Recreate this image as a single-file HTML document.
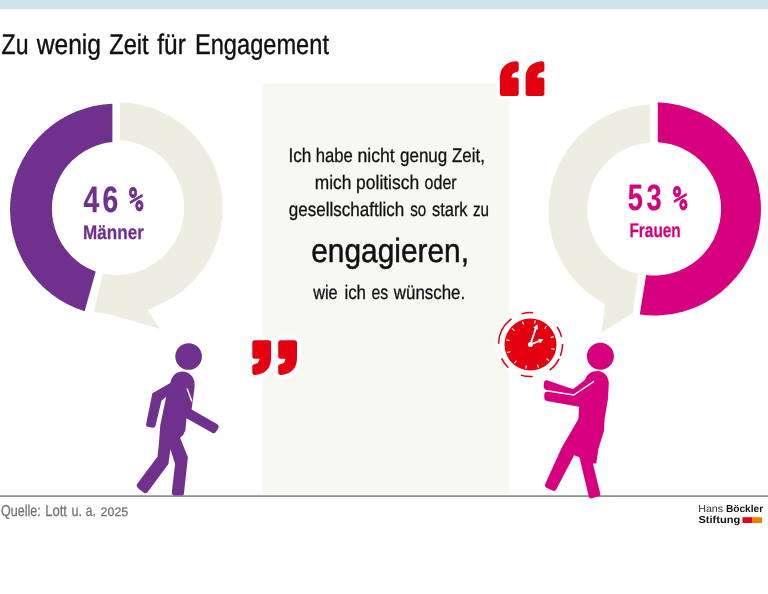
<!DOCTYPE html>
<html lang="de">
<head>
<meta charset="utf-8">
<title>Zu wenig Zeit für Engagement</title>
<style>
html,body{margin:0;padding:0;background:#fff;}
body{width:768px;height:594px;overflow:hidden;position:relative;font-family:"Liberation Sans",sans-serif;}
svg{position:absolute;left:0;top:0;display:block;}
text{font-family:"Liberation Sans",sans-serif;text-rendering:geometricPrecision;}
.b{font-weight:bold;}
</style>
</head>
<body>
<svg width="768" height="594" viewBox="0 0 768 594">
  <!-- top bar -->
  <rect x="0" y="0" width="768" height="9.2" fill="#cde4ed"/>

  <!-- centre box -->
  <rect x="262.5" y="83.4" width="246.8" height="410.4" fill="#f8f8f3"/>

  <!-- LEFT DONUT -->
  <g id="donutL">
    <path fill="#eeede2" d="M119.80 102.13 A105.6 105.6 0 0 1 165.00 301.81 L147.7 310.3 L160.0 329.0 L125 318.7 L109.5 314.4 Q101 312.6 93.6 312.2 L102.99 273.67 A67.4 67.4 0 1 0 119.80 140.37 Z"/>
    <path fill="#6f308e" d="M112.40 103.67 L112.40 142.02 A67.0 67.0 0 0 0 95.73 271.57 L84.60 311.36 A106.3 106.3 0 0 1 112.40 103.67 Z"/>
  </g>

  <!-- RIGHT DONUT -->
  <g id="donutR">
    <path fill="#eeede2" d="M650.10 104.40 L650.10 142.52 A66.8 66.8 0 0 0 637.99 274.03 L632.9 313.0 L601.6 332.4 L604.97 304.17 A106.1 106.1 0 0 1 650.10 104.40 Z"/>
    <path fill="#d6007e" d="M657.80 102.36 A106.6 106.6 0 1 1 639.76 314.50 L646.12 274.88 A66.6 66.6 0 1 0 657.80 142.29 Z"/>
  </g>


  <!-- baseline rule -->
  <rect x="0" y="495.3" width="768" height="1.6" fill="#878787"/>
  <!-- clock -->
  <g id="clock">
    <circle cx="530.5" cy="344.6" r="35.2" fill="#fff"/>
    <path d="M521.57 313.87 A32 32 0 0 1 533.01 312.70 M557.25 327.03 A32 32 0 0 1 561.55 336.86 M562.50 344.04 A32 32 0 0 1 560.37 356.07 M559.14 358.88 A32 32 0 0 1 549.76 370.16 M532.73 376.52 A32 32 0 0 1 520.88 375.12 M508.35 367.70 A32 32 0 0 1 501.59 358.33 M498.51 343.71 A32 32 0 0 1 511.56 318.81" fill="none" stroke="#e3000f" stroke-width="1.5"/>
    <circle cx="530.5" cy="344.6" r="26" fill="#e3000f"/>
    <g stroke="#fdf6e6" stroke-width="1.2"><line x1="534.56" y1="323.69" x2="535.19" y2="320.45"/><line x1="544.47" y1="328.52" x2="546.64" y2="326.03"/><line x1="550.64" y1="337.67" x2="553.76" y2="336.59"/><line x1="551.41" y1="348.66" x2="554.65" y2="349.29"/><line x1="546.58" y1="358.57" x2="549.07" y2="360.74"/><line x1="537.43" y1="364.74" x2="538.51" y2="367.86"/><line x1="526.44" y1="365.51" x2="525.81" y2="368.75"/><line x1="516.53" y1="360.68" x2="514.36" y2="363.17"/><line x1="510.36" y1="351.53" x2="507.24" y2="352.61"/><line x1="509.59" y1="340.54" x2="506.35" y2="339.91"/><line x1="514.42" y1="330.63" x2="511.93" y2="328.46"/><line x1="523.57" y1="324.46" x2="522.49" y2="321.34"/></g>
    <g fill="#fff">
      <polygon points="529.50,344.10 534.83,328.27 533.26,327.74 537.19,324.21 538.19,329.40 536.63,328.88 531.30,344.70"/>
      <polygon points="530.07,343.51 538.79,340.27 538.21,338.72 543.43,339.55 540.02,343.60 539.45,342.05 530.73,345.29"/>
    </g>
    <circle cx="530.4" cy="344.4" r="2.5" fill="#fff"/>
  </g>

  <!-- man -->
  <g id="man" fill="#6f308e">
    <circle cx="188.6" cy="356.5" r="13.3"/>
    <path d="M166.3 396.6 L170.3 383 C171.5 376.5 176 371.5 182 371.5 C189.5 371.5 194.6 377 194.6 384.5 L194.4 389 L191.6 409.4 L217.4 424.3 Q219.5 426 218.3 428.3 L215.5 432.5 Q214 433.8 212.5 433 L186.5 418.2 L185.3 430.4 Q184 435 180.1 437.8 L187.9 457.3 L183.9 493.7 Q183.8 495.6 182 495.6 L174 495.4 Q171.6 495 171.8 492.3 L175.1 464.1 L170.4 449.2 L168.4 464.1 L147.5 492.3 Q146 494 144 492.7 L138 488.3 Q135.8 486.3 136.9 484.3 L157.6 456.6 L159 442.5 L160.3 425 Z"/>
    <path d="M170.3 383 L152.4 393.3 L146.1 424.3 Q145.8 426.5 148 427 L153 427.8 Q155 427.8 155.5 425.8 L161.5 400.7 L166.3 396.6 L176 398 L178 380 Z"/>
    <path d="M187.1 388.6 L191.9 401.4" stroke="#fff" stroke-width="1.4" fill="none"/>
  </g>

  <!-- woman -->
  <g id="woman" fill="#d6007e">
    <circle cx="600.4" cy="356.2" r="13.5"/>
    <path d="M585.1 379.8 C587 374.5 591.5 371.1 597.2 371.1 C604 371.1 608.8 376.5 608.8 383.5 L608 398.7 L604.6 418.9 L603.9 431 L598.3 449.2 L596.3 463.4 L592.9 463.4 L600.3 493.7 Q600.8 495.6 599 496.2 L591 498.4 Q589.3 498.7 588.8 496.4 L579.4 457.3 L574.1 455.3 L556.5 489 Q555.2 491.5 553 490.7 L546.3 487.8 Q544.3 486.6 545.1 484.3 L561.9 447.2 L572.3 429.6 L578.4 418.9 L579.1 406.8 L546.7 401.1 Q544.2 400.6 544.3 398 L544.3 394.5 Q544.4 391.6 547 391.9 L545.4 389.2 Q543.5 388.8 543.6 386.5 L543.9 383.5 Q544.3 379.9 547 380.3 L573 389.2 Z"/>
    <path d="M542 390.0 L573.7 395.0 L593.9 381.4" stroke="#fff" stroke-width="1.4" fill="none"/>
  </g>

  <!-- quote marks -->
  <defs>
    <path id="qm" d="M0 32.3 L0 17 C0 7 5.5 1.2 15.5 0.1 Q18.8 -0.3 18.8 2.8 L18.8 9 Q18.8 10.6 17 10.9 C13.3 11.5 11.9 13 11.7 16.4 L16.3 16.4 Q18.8 16.4 18.8 18.9 L18.8 32.3 Q18.8 34.8 16.3 34.8 L2.5 34.8 Q0 34.8 0 32.3 Z"/>
  </defs>
  <g fill="#e3000f" stroke="#fff" stroke-width="6" paint-order="stroke" stroke-linejoin="round">
    <use href="#qm" x="499.9" y="61.1"/>
    <use href="#qm" x="525.6" y="61.1"/>
  </g>
  <g fill="#e3000f" stroke="#fff" stroke-width="9" paint-order="stroke" stroke-linejoin="round">
    <use href="#qm" transform="translate(271.1 375.1) rotate(180)"/>
    <use href="#qm" transform="translate(297.0 375.1) rotate(180)"/>
  </g>

  <!-- text -->
  <g id="labels">
    <text x="1.6" y="53.8" font-size="28.4" fill="#111111" stroke="#111111" stroke-width="0.4" vector-effect="non-scaling-stroke" textLength="26.88" lengthAdjust="spacingAndGlyphs">Zu</text>
    <text x="36.75" y="53.8" font-size="28.4" fill="#111111" stroke="#111111" stroke-width="0.4" vector-effect="non-scaling-stroke" textLength="64.27" lengthAdjust="spacingAndGlyphs">wenig</text>
    <text x="109.2" y="53.8" font-size="28.4" fill="#111111" stroke="#111111" stroke-width="0.4" vector-effect="non-scaling-stroke" textLength="39.51" lengthAdjust="spacingAndGlyphs">Zeit</text>
    <text x="157.3" y="53.8" font-size="28.4" fill="#111111" stroke="#111111" stroke-width="0.4" vector-effect="non-scaling-stroke" textLength="28.5" lengthAdjust="spacingAndGlyphs">für</text>
    <text x="194.95" y="53.8" font-size="28.4" fill="#111111" stroke="#111111" stroke-width="0.4" vector-effect="non-scaling-stroke" textLength="134.02" lengthAdjust="spacingAndGlyphs">Engagement</text>
    <text x="288.45" y="161.9" font-size="19.6" fill="#111111" stroke="#111111" stroke-width="0.3" vector-effect="non-scaling-stroke" textLength="22.96" lengthAdjust="spacingAndGlyphs">Ich</text>
    <text x="315.8" y="161.9" font-size="19.6" fill="#111111" stroke="#111111" stroke-width="0.3" vector-effect="non-scaling-stroke" textLength="37.06" lengthAdjust="spacingAndGlyphs">habe</text>
    <text x="357.4" y="161.9" font-size="19.6" fill="#111111" stroke="#111111" stroke-width="0.3" vector-effect="non-scaling-stroke" textLength="37.28" lengthAdjust="spacingAndGlyphs">nicht</text>
    <text x="400.0" y="161.9" font-size="19.6" fill="#111111" stroke="#111111" stroke-width="0.3" vector-effect="non-scaling-stroke" textLength="47.29" lengthAdjust="spacingAndGlyphs">genug</text>
    <text x="452.05" y="161.9" font-size="19.6" fill="#111111" stroke="#111111" stroke-width="0.3" vector-effect="non-scaling-stroke" textLength="32.83" lengthAdjust="spacingAndGlyphs">Zeit,</text>
    <text x="314.8" y="188.8" font-size="19.6" fill="#111111" stroke="#111111" stroke-width="0.3" vector-effect="non-scaling-stroke" textLength="36.59" lengthAdjust="spacingAndGlyphs">mich</text>
    <text x="356.1" y="188.8" font-size="19.6" fill="#111111" stroke="#111111" stroke-width="0.3" vector-effect="non-scaling-stroke" textLength="63.06" lengthAdjust="spacingAndGlyphs">politisch</text>
    <text x="424.6" y="188.8" font-size="19.6" fill="#111111" stroke="#111111" stroke-width="0.3" vector-effect="non-scaling-stroke" textLength="32.01" lengthAdjust="spacingAndGlyphs">oder</text>
    <text x="288.8" y="216.2" font-size="19.6" fill="#111111" stroke="#111111" stroke-width="0.3" vector-effect="non-scaling-stroke" textLength="115.51" lengthAdjust="spacingAndGlyphs">gesellschaftlich</text>
    <text x="410.25" y="216.2" font-size="19.6" fill="#111111" stroke="#111111" stroke-width="0.3" vector-effect="non-scaling-stroke" textLength="16.03" lengthAdjust="spacingAndGlyphs">so</text>
    <text x="432.05" y="216.2" font-size="19.6" fill="#111111" stroke="#111111" stroke-width="0.3" vector-effect="non-scaling-stroke" textLength="35.5" lengthAdjust="spacingAndGlyphs">stark</text>
    <text x="473.0" y="216.2" font-size="19.6" fill="#111111" stroke="#111111" stroke-width="0.3" vector-effect="non-scaling-stroke" textLength="16.09" lengthAdjust="spacingAndGlyphs">zu</text>
    <text x="311.2" y="262.4" font-size="33.5" fill="#111111" stroke="#111111" stroke-width="0.5" vector-effect="non-scaling-stroke" textLength="157.82" lengthAdjust="spacingAndGlyphs">engagieren,</text>
    <text x="313.15" y="298.7" font-size="19.6" fill="#111111" stroke="#111111" stroke-width="0.3" vector-effect="non-scaling-stroke" textLength="24.5" lengthAdjust="spacingAndGlyphs">wie</text>
    <text x="344.4" y="298.7" font-size="19.6" fill="#111111" stroke="#111111" stroke-width="0.3" vector-effect="non-scaling-stroke" textLength="21.65" lengthAdjust="spacingAndGlyphs">ich</text>
    <text x="371.5" y="298.7" font-size="19.6" fill="#111111" stroke="#111111" stroke-width="0.3" vector-effect="non-scaling-stroke" textLength="16.8" lengthAdjust="spacingAndGlyphs">es</text>
    <text x="393.85" y="298.7" font-size="19.6" fill="#111111" stroke="#111111" stroke-width="0.3" vector-effect="non-scaling-stroke" textLength="71.26" lengthAdjust="spacingAndGlyphs">wünsche.</text>
    <text x="83.55" y="211.9" font-size="36.6" font-weight="bold" fill="#6f308e" stroke="#6f308e" stroke-width="0.25" vector-effect="non-scaling-stroke" letter-spacing="4.0" textLength="37.72" lengthAdjust="spacingAndGlyphs">46</text>
    <text x="129.1" y="211.4" font-size="34.1" style="font-family:'DejaVu Sans Mono','Liberation Sans',sans-serif" font-weight="bold" fill="#6f308e" stroke="#6f308e" stroke-width="1.0" vector-effect="non-scaling-stroke" textLength="14.25" lengthAdjust="spacingAndGlyphs">%</text>
    <text x="83.1" y="239.1" font-size="19.8" font-weight="bold" fill="#6f308e" stroke="#6f308e" stroke-width="0.25" vector-effect="non-scaling-stroke" textLength="60.77" lengthAdjust="spacingAndGlyphs">Männer</text>
    <text x="627.65" y="210.3" font-size="36.6" font-weight="bold" fill="#d6007e" stroke="#d6007e" stroke-width="0.25" vector-effect="non-scaling-stroke" letter-spacing="5.0" textLength="37.77" lengthAdjust="spacingAndGlyphs">53</text>
    <text x="673.1" y="209.8" font-size="34.1" style="font-family:'DejaVu Sans Mono','Liberation Sans',sans-serif" font-weight="bold" fill="#d6007e" stroke="#d6007e" stroke-width="1.0" vector-effect="non-scaling-stroke" textLength="14.25" lengthAdjust="spacingAndGlyphs">%</text>
    <text x="629.45" y="236.6" font-size="19.8" font-weight="bold" fill="#d6007e" stroke="#d6007e" stroke-width="0.25" vector-effect="non-scaling-stroke" textLength="51.29" lengthAdjust="spacingAndGlyphs">Frauen</text>
    <text x="0.9" y="516.0" font-size="15.8" fill="#727272" stroke="#727272" stroke-width="0.25" vector-effect="non-scaling-stroke" textLength="39.8" lengthAdjust="spacingAndGlyphs">Quelle:</text>
    <text x="45.15" y="516.0" font-size="15.8" fill="#727272" stroke="#727272" stroke-width="0.25" vector-effect="non-scaling-stroke" textLength="21.77" lengthAdjust="spacingAndGlyphs">Lott</text>
    <text x="71.6" y="516.0" font-size="15.8" fill="#727272" stroke="#727272" stroke-width="0.25" vector-effect="non-scaling-stroke" textLength="10.5" lengthAdjust="spacingAndGlyphs">u.</text>
    <text x="85.85" y="516.0" font-size="15.8" fill="#727272" stroke="#727272" stroke-width="0.25" vector-effect="non-scaling-stroke" textLength="10.12" lengthAdjust="spacingAndGlyphs">a.</text>
    <text x="100.5" y="516.3" font-size="12.3" fill="#727272" stroke="#727272" stroke-width="0.25" vector-effect="non-scaling-stroke" textLength="27.78" lengthAdjust="spacingAndGlyphs">2025</text>
    <text x="698.15" y="512.0" font-size="10.2" fill="#333333" textLength="25.06" lengthAdjust="spacingAndGlyphs">Hans</text>
    <text x="725.9" y="512.0" font-size="10.2" font-weight="bold" fill="#111111" textLength="37.26" lengthAdjust="spacingAndGlyphs">Böckler</text>
    <text x="698.4" y="522.7" font-size="10.2" font-weight="bold" fill="#111111" textLength="41.78" lengthAdjust="spacingAndGlyphs">Stiftung</text>
  </g>
  <!-- logo -->
  <rect x="742.5" y="517.2" width="9.6" height="5.8" fill="#e2001a"/>
  <rect x="752" y="517.2" width="9.9" height="5.8" fill="#f07d00"/>
</svg>
</body>
</html>
